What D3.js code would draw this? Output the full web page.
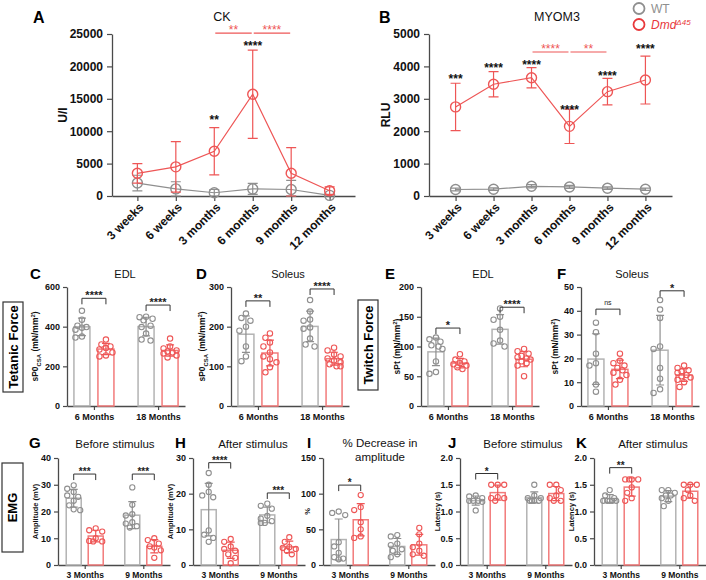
<!DOCTYPE html>
<html>
<head>
<meta charset="utf-8">
<script src="https://cdn.jsdelivr.net/npm/d3@7"></script>
<style>
  body { margin: 0; background: #fff; }
  svg { display: block; font-family: Arial, "Liberation Sans", Helvetica, sans-serif; }
</style>
</head>
<body>
<svg id="fig" width="706" height="580"></svg>
<script>
// ---- row 1: serum markers over age ----
const AGES = ["3 weeks", "6 weeks", "3 months", "6 months", "9 months", "12 months"];

const CK_WT = [2000, 1100, 500, 1100, 1000, 100];
const CK_WT_SD = [1200, 1100, 500, 850, 1400, 150];
const CK_DMD = [3500, 4500, 6900, 15700, 3500, 800];
const CK_DMD_SD = [1500, 3900, 3650, 6800, 3950, 600];
const CK_STARS = ["", "", "**", "****", "", ""];
const CK_STAR_AT = [0, 0, 12200, 23600, 0, 0];
const CK_PAIRS = [["3 months", "6 months", "**"], ["6 months", "9 months", "****"]];
const CK_PAIR_AT = 25150;

const MY_WT = [200, 210, 300, 280, 240, 210];
const MY_WT_SD = [40, 40, 50, 45, 40, 35];
const MY_DMD = [2750, 3450, 3650, 2150, 3220, 3580];
const MY_DMD_SD = [730, 390, 310, 530, 410, 740];
const MY_STARS = ["***", "****", "****", "****", "****", "****"];
const MY_STAR_AT = [3700, 4040, 4140, 2750, 3800, 4630];
const MY_PAIRS = [["3 months", "6 months", "****"], ["6 months", "9 months", "**"]];
const MY_PAIR_AT = 4444;

// ---- row 2: muscle force ----
const FORCE_GROUPS = ["6 Months", "18 Months"];
const C_WT = [[480, 435, 405, 398, 395, 385, 350, 345], [450, 448, 440, 432, 405, 398, 365, 335, 330]];
const C_DMD = [[335, 310, 300, 292, 285, 270, 255, 250], [340, 300, 290, 280, 275, 270, 265, 255, 245]];
const C_SIG = ["****", "****"];
const C_SIG_AT = [543, 509];

const D_WT = [[233, 222, 215, 200, 190, 150, 125, 113], [267, 238, 218, 215, 198, 195, 170, 155, 150]];
const D_DMD = [[183, 172, 160, 150, 135, 125, 118, 110, 98, 85], [147, 140, 130, 125, 120, 115, 110, 105, 100, 100]];
const D_SIG = ["**", "****"];
const D_SIG_AT = [265, 295];

const E_WT = [[115, 112, 108, 102, 100, 96, 75, 57, 54], [164, 150, 145, 128, 110, 105, 100]];
const E_DMD = [[87, 78, 75, 72, 70, 68, 65, 62], [96, 92, 88, 84, 82, 80, 78, 75, 72, 68, 50]];
const E_SIG = ["*", "****"];
const E_SIG_AT = [131, 166];

const F_WT = [[35, 31, 22, 18, 17, 9, 6], [44.5, 40.5, 37, 25, 24, 16, 11.5, 7, 5.5]];
const F_DMD = [[22, 19, 18, 17, 16, 15, 14, 13, 11, 9], [17, 16, 15, 14.5, 14, 13, 12.5, 12, 11, 10, 8]];
const F_SIG = ["ns", "*"];
const F_SIG_AT = [40.7, 48.4];

// ---- row 3: EMG ----
const EMG_GROUPS = ["3 Months", "9 Months"];
const G_WT = [[29.8, 28.5, 27.3, 26, 25.5, 24, 22.3, 20.8, 20.5], [29, 22.5, 19, 18.5, 16, 15.5, 14.5, 14]];
const G_DMD = [[13.7, 13, 12.5, 10, 9, 8.8, 8.8], [10, 9.3, 8, 7, 6.5, 5.5, 2.7]];
const G_SIG = ["***", "***"];
const G_SIG_AT = [34, 34];

const H_WT = [[25.8, 22.5, 20.5, 19.5, 19, 9.7, 8.5, 7.6, 6.5], [17.2, 16.6, 15.8, 13.8, 13, 12.3, 11.8, 11.8]];
const H_DMD = [[7.3, 6.5, 5.2, 4.5, 4, 3, 2, 0.5], [7.8, 6.5, 5, 4.8, 4.5, 4, 3]];
const H_SIG = ["****", "***"];
const H_SIG_AT = [28.7, 20.2];

const I_WT = [[75, 73, 70, 32, 26, 17, 11, 9, 8], [42, 40, 30, 28, 22, 20, 15, 11]];
const I_DMD = [[98, 81, 77, 60, 50, 40, 38], [52, 43, 30, 25, 20, 15, 13]];
const I_SIG = ["*", ""];
const I_SIG_AT = [112, 0];

const J_WT = [[1.3, 1.28, 1.25, 1.2, 1.2, 1.2, 1.18, 1.02], [1.5, 1.3, 1.25, 1.25, 1.2, 1.2, 1.2, 1.2]];
const J_DMD = [[1.5, 1.5, 1.5, 1.27, 1.25, 1.25, 1.2], [1.5, 1.5, 1.4, 1.3, 1.25, 1.2, 1.2]];
const J_SIG = ["*", ""];
const J_SIG_AT = [1.71, 0];

const K_WT = [[1.4, 1.3, 1.25, 1.2, 1.2, 1.2, 1.2, 1.2], [1.4, 1.4, 1.35, 1.3, 1.3, 1.25, 1.2, 1.1]];
const K_DMD = [[1.6, 1.6, 1.6, 1.6, 1.45, 1.35, 1.25, 1.2], [1.5, 1.5, 1.5, 1.4, 1.3, 1.25, 1.2]];
const K_SIG = ["**", ""];
const K_SIG_AT = [1.82, 0];

const TET_LABEL = [["sP0", ""], ["CSA", "sub"], [" (mN/mm", ""], ["2", "sup"], [")", ""]];
const TW_LABEL = [["sPt (mN/mm", ""], ["2", "sup"], [")", ""]];

const GRAY = "#8f8f8f", GRAY_BAR = "#b3b3b3";
const RED = "#ee5656", RED_BAR = "#f27b7b";
const AXIS = "#4a4a4a", INK = "#111";

const svg = d3.select("#fig");

function styleAxis(a) {
  a.select(".domain").attr("stroke", AXIS).attr("stroke-width", 1.3);
  a.selectAll(".tick line").attr("stroke", AXIS).attr("stroke-width", 1.2);
  a.selectAll("text").attr("fill", INK).attr("font-weight", "bold")
    .attr("font-family", "Arial, 'Liberation Sans', sans-serif");
}

function richText(sel, segs, size) {
  let shift = 0;
  segs.forEach(([t, m]) => {
    const target = m === "sub" ? size * 0.3 : m === "sup" ? -size * 0.4 : 0;
    sel.append("tspan").attr("dy", target - shift)
      .attr("font-size", m ? size * 0.7 : size).text(t);
    shift = target;
  });
}

function letter(x, y, t, size) {
  svg.append("text").attr("x", x).attr("y", y).attr("font-size", size)
    .attr("font-weight", "bold").attr("fill", "#000").text(t);
}

function title(x, y, t, size) {
  svg.append("text").attr("x", x).attr("y", y).attr("text-anchor", "middle")
    .attr("font-size", size).attr("fill", "#111").text(t);
}

function yLabel(x, yc, segs, size) {
  const t = svg.append("text").attr("transform", `translate(${x},${yc}) rotate(-90)`)
    .attr("text-anchor", "middle").attr("font-weight", "bold").attr("fill", INK)
    .attr("font-size", size);
  richText(t, segs, size);
}

function rowBox(x, y, w, h, t) {
  svg.append("rect").attr("x", x).attr("y", y).attr("width", w).attr("height", h)
    .attr("fill", "none").attr("stroke", "#333").attr("stroke-width", 1.2);
  svg.append("text").attr("transform", `translate(${x + w / 2 + 4.5},${y + h / 2}) rotate(-90)`)
    .attr("text-anchor", "middle").attr("font-size", 13).attr("font-weight", "bold")
    .attr("fill", "#000").text(t);
}

// ---------- line charts (A, B) ----------
function lineChart(o) {
  const g = svg.append("g");
  const x = d3.scalePoint().domain(AGES).range([o.ax, o.ax + 243]).padding(o.pad);
  const y = d3.scaleLinear().domain([0, o.max]).range([196, 34]);

  const xa = g.append("g").attr("transform", "translate(0,196)")
    .call(d3.axisBottom(x).tickSize(5).tickSizeOuter(0).tickFormat(""));
  const ya = g.append("g").attr("transform", `translate(${o.ax},0)`)
    .call(d3.axisLeft(y).tickValues(d3.range(0, o.max + 1, o.step)).tickSize(5)
      .tickSizeOuter(0).tickPadding(4).tickFormat(d3.format("d")));
  styleAxis(xa); styleAxis(ya);
  ya.selectAll("text").attr("font-size", 12);

  g.selectAll(".xl").data(AGES).join("text")
    .attr("transform", d => `translate(${x(d) + 4},205) rotate(-45)`)
    .attr("text-anchor", "end").attr("dy", "0.35em")
    .attr("font-size", 12).attr("font-weight", "bold").attr("fill", INK)
    .text(d => d);

  const series = [[o.wt, o.wtSd, GRAY], [o.dmd, o.dmdSd, RED]];
  series.forEach(([m, sd, c]) => {
    const pts = AGES.map((a, i) => ({ a, m: m[i], sd: sd[i] }));
    g.append("path").datum(pts).attr("fill", "none").attr("stroke", c).attr("stroke-width", 1.2)
      .attr("d", d3.line().x(d => x(d.a)).y(d => y(d.m)));
    g.append("g").attr("stroke", c).attr("stroke-width", 1.2).attr("fill", "none")
      .selectAll("path").data(pts).join("path")
      .attr("d", d => {
        const xc = x(d.a), y1 = y(d.m + d.sd), y0 = y(Math.max(0, d.m - d.sd));
        return `M${xc - 5},${y1}H${xc + 5}M${xc},${y1}V${y0}M${xc - 5},${y0}H${xc + 5}`;
      });
    g.append("g").selectAll("circle").data(pts).join("circle")
      .attr("cx", d => x(d.a)).attr("cy", d => y(d.m)).attr("r", 5)
      .attr("fill", "none").attr("stroke", c).attr("stroke-width", 1.4);
  });

  // significance vs WT
  g.selectAll(".st").data(AGES.map((a, i) => ({ a, s: o.stars[i], v: o.starAt[i] })).filter(d => d.s))
    .join("text").attr("x", d => x(d.a)).attr("y", d => y(d.v) + 7)
    .attr("text-anchor", "middle").attr("font-size", 12).attr("font-weight", "bold")
    .attr("fill", "#111").text(d => d.s);

  // red brackets between ages
  o.pairs.forEach(([a, b, s]) => {
    const yy = y(o.pairAt);
    g.append("line").attr("x1", x(a) + 1).attr("x2", x(b) - 1).attr("y1", yy).attr("y2", yy)
      .attr("stroke", RED).attr("stroke-width", 1.2);
    g.append("text").attr("x", (x(a) + x(b)) / 2).attr("y", yy + 1)
      .attr("text-anchor", "middle").attr("font-size", 12).attr("fill", RED).text(s);
  });

  yLabel(o.ylx, 115, [[o.ylabel, ""]], 12);
  title(o.tx, 21, o.title, 12.5);
  letter(o.lx, 23, o.letter, 16);
}

lineChart({ ax: 112, pad: 0.66, max: 25000, step: 5000, wt: CK_WT, wtSd: CK_WT_SD, dmd: CK_DMD, dmdSd: CK_DMD_SD,
  stars: CK_STARS, starAt: CK_STAR_AT, pairs: CK_PAIRS, pairAt: CK_PAIR_AT,
  ylabel: "U/l", ylx: 67, title: "CK", tx: 222, letter: "A", lx: 33 });
lineChart({ ax: 429, pad: 0.7, max: 5000, step: 1000, wt: MY_WT, wtSd: MY_WT_SD, dmd: MY_DMD, dmdSd: MY_DMD_SD,
  stars: MY_STARS, starAt: MY_STAR_AT, pairs: MY_PAIRS, pairAt: MY_PAIR_AT,
  ylabel: "RLU", ylx: 390, title: "MYOM3", tx: 557, letter: "B", lx: 379 });

// legend
const leg = svg.append("g");
leg.append("circle").attr("cx", 639).attr("cy", 8.5).attr("r", 5.5).attr("fill", "none")
  .attr("stroke", GRAY).attr("stroke-width", 1.8);
leg.append("text").attr("x", 651).attr("y", 12.5).attr("font-size", 12).attr("fill", GRAY).text("WT");
leg.append("circle").attr("cx", 639).attr("cy", 24.5).attr("r", 5.5).attr("fill", "none")
  .attr("stroke", "#e8383b").attr("stroke-width", 1.8);
const dmdT = leg.append("text").attr("x", 651).attr("y", 29).attr("font-size", 12)
  .attr("fill", "#e8383b").attr("font-style", "italic");
dmdT.append("tspan").text("Dmd");
dmdT.append("tspan").attr("dy", -4).attr("font-size", 8).text("Δ45");

// ---------- bar + scatter panels ----------
function swarm(vals, y, r) {
  const cand = [0, -4.5, 4.5, -2.5, 2.5, -6.5, 6.5];
  const placed = [];
  return vals.map(v => {
    const py = y(v);
    let best = 0, bestD = -1;
    for (const dx of cand) {
      let dmin = Infinity;
      placed.forEach(p => { dmin = Math.min(dmin, Math.hypot(p.dx - dx, p.py - py)); });
      if (dmin >= 2 * r + 0.6) { best = dx; bestD = Infinity; break; }
      if (dmin > bestD) { bestD = dmin; best = dx; }
    }
    placed.push({ dx: best, py });
    return { v, dx: best };
  });
}

function barPanel(o) {
  const g = svg.append("g");
  const x = d3.scalePoint().domain(o.groups).range([o.ax, o.ax + o.len]).padding(o.pad);
  const y = d3.scaleLinear().domain([0, o.max]).range([o.bot, o.top]);

  const xa = g.append("g").attr("transform", `translate(0,${o.bot})`)
    .call(d3.axisBottom(x).tickSize(4).tickSizeOuter(0).tickPadding(o.xpad));
  const ya = g.append("g").attr("transform", `translate(${o.ax},0)`)
    .call(d3.axisLeft(y).tickValues(o.ticks).tickSize(4).tickSizeOuter(0).tickPadding(3)
      .tickFormat(o.fmt || d3.format("d")));
  styleAxis(xa); styleAxis(ya);
  xa.selectAll("text").attr("font-size", o.xfs);
  ya.selectAll("text").attr("font-size", o.yfs);

  const sets = [[o.wt, GRAY, GRAY_BAR, -o.off], [o.dmd, RED, RED_BAR, o.off]];
  sets.forEach(([data, c, cb, off]) => {
    o.groups.forEach((grp, gi) => {
      const vals = data[gi];
      const m = d3.mean(vals), sd = d3.deviation(vals);
      const xc = x(grp) + off;
      g.append("rect").attr("x", xc - o.bw / 2).attr("y", y(m))
        .attr("width", o.bw).attr("height", y(0) - y(m))
        .attr("fill", "none").attr("stroke", cb).attr("stroke-width", 1.5);
      g.append("g").selectAll("circle").data(swarm(vals, y, o.r)).join("circle")
        .attr("cx", d => xc + d.dx).attr("cy", d => y(d.v)).attr("r", o.r)
        .attr("fill", "none").attr("stroke", c).attr("stroke-width", 1.1);
      const y1 = y(m + sd), y0 = y(Math.max(0, m - sd));
      g.append("path").attr("fill", "none").attr("stroke", c).attr("stroke-width", 1.2)
        .attr("d", `M${xc - 4},${y1}H${xc + 4}M${xc},${y1}V${y0}M${xc - 4},${y0}H${xc + 4}`);
    });
  });

  o.groups.forEach((grp, gi) => {
    const s = o.sig[gi];
    if (!s) return;
    const yb = y(o.sigAt[gi]);
    const x1 = x(grp) - o.off, x2 = x(grp) + o.off;
    g.append("path").attr("fill", "none").attr("stroke", "#333").attr("stroke-width", 1)
      .attr("d", `M${x1},${yb + 6}V${yb}H${x2}V${yb + 6}`);
    g.append("text").attr("x", (x1 + x2) / 2).attr("y", s === "ns" ? yb - 4 : yb + 1)
      .attr("text-anchor", "middle").attr("font-size", s === "ns" ? 7 : o.sfs)
      .attr("font-weight", s === "ns" ? "normal" : "bold").attr("fill", "#222").text(s);
  });

  letter(o.lx, o.ly, o.letter, 15);
  if (Array.isArray(o.title)) {
    o.title.forEach((t, i) => title(o.tx, o.ty + i * 14, t, o.tfs));
  } else {
    title(o.tx, o.ty, o.title, o.tfs);
  }
  yLabel(o.ylx, (o.top + o.bot) / 2, o.ylabel, o.ylfs);
}

const ROW2 = { groups: FORCE_GROUPS, len: 118, pad: 0.42, top: 287, bot: 406, off: 12, bw: 16, r: 2.7,
  xfs: 9, yfs: 9, xpad: 4, sfs: 11, ly: 279, ty: 278, tfs: 11, ylfs: 8.5 };
barPanel({ ...ROW2, ax: 67, max: 600, ticks: [0, 200, 400, 600], wt: C_WT, dmd: C_DMD, sig: C_SIG, sigAt: C_SIG_AT,
  letter: "C", lx: 30, title: "EDL", tx: 125, ylabel: TET_LABEL, ylx: 38 });
barPanel({ ...ROW2, ax: 231, max: 300, ticks: [0, 100, 200, 300], wt: D_WT, dmd: D_DMD, sig: D_SIG, sigAt: D_SIG_AT,
  letter: "D", lx: 196, title: "Soleus", tx: 288, ylabel: TET_LABEL, ylx: 205 });
barPanel({ ...ROW2, ax: 421, max: 200, ticks: [0, 50, 100, 150, 200], wt: E_WT, dmd: E_DMD, sig: E_SIG, sigAt: E_SIG_AT,
  letter: "E", lx: 385, title: "EDL", tx: 483, ylabel: TW_LABEL, ylx: 400 });
barPanel({ ...ROW2, ax: 581, max: 50, ticks: [0, 10, 20, 30, 40, 50], wt: F_WT, dmd: F_DMD, sig: F_SIG, sigAt: F_SIG_AT,
  letter: "F", lx: 557, title: "Soleus", tx: 632, ylabel: TW_LABEL, ylx: 558 });

const ROW3 = { groups: EMG_GROUPS, len: 112, pad: 0.456, top: 458, bot: 565, off: 11, bw: 15, r: 2.6,
  xfs: 8.5, yfs: 9, xpad: 3, sfs: 10, ly: 448, ty: 448, tfs: 11.5, ylfs: 7.5 };
barPanel({ ...ROW3, ax: 58, max: 40, ticks: [0, 10, 20, 30, 40], wt: G_WT, dmd: G_DMD, sig: G_SIG, sigAt: G_SIG_AT,
  letter: "G", lx: 29, title: "Before stimulus", tx: 115, ylabel: [["Amplitude (mV)", ""]], ylx: 38 });
barPanel({ ...ROW3, ax: 193, max: 30, ticks: [0, 10, 20, 30], wt: H_WT, dmd: H_DMD, sig: H_SIG, sigAt: H_SIG_AT,
  letter: "H", lx: 175, title: "After stimulus", tx: 253, ylabel: [["Amplitude (mV)", ""]], ylx: 173 });
barPanel({ ...ROW3, ax: 323, max: 150, ticks: [0, 50, 100, 150], wt: I_WT, dmd: I_DMD, sig: I_SIG, sigAt: I_SIG_AT,
  letter: "I", lx: 307, title: ["% Decrease in", "amplitude"], tx: 380, ty: 447, ylabel: [["%", ""]], ylx: 310 });
barPanel({ ...ROW3, ax: 460, max: 2, ticks: [0, 0.5, 1, 1.5, 2], fmt: d3.format(".1f"), wt: J_WT, dmd: J_DMD,
  sig: J_SIG, sigAt: J_SIG_AT, letter: "J", lx: 448, title: "Before stimulus", tx: 523,
  ylabel: [["Latency (s)", ""]], ylx: 440 });
barPanel({ ...ROW3, ax: 594, max: 2, ticks: [0, 0.5, 1, 1.5, 2], fmt: d3.format(".1f"), wt: K_WT, dmd: K_DMD,
  sig: K_SIG, sigAt: K_SIG_AT, letter: "K", lx: 576, title: "After stimulus", tx: 653,
  ylabel: [["Latency (s)", ""]], ylx: 574 });

rowBox(3, 302, 20, 90, "Tetanic Force");
rowBox(358, 300, 20, 90, "Twitch Force");
rowBox(2, 463, 21, 89, "EMG");
</script>
</body>
</html>
